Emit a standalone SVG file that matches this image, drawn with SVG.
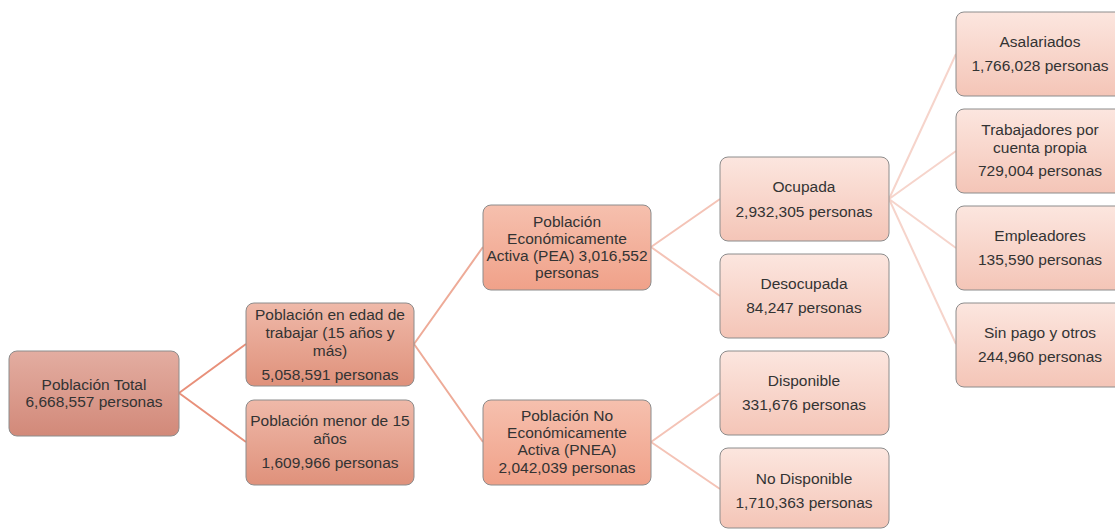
<svg xmlns="http://www.w3.org/2000/svg" width="1115" height="529" viewBox="0 0 1115 529">
<defs>
<linearGradient id="g1" x1="0" y1="0" x2="0" y2="1"><stop offset="0" stop-color="#e3ada1"/><stop offset="1" stop-color="#d28979"/></linearGradient>
<linearGradient id="g2" x1="0" y1="0" x2="0" y2="1"><stop offset="0" stop-color="#efb9a9"/><stop offset="1" stop-color="#df917b"/></linearGradient>
<linearGradient id="g3" x1="0" y1="0" x2="0" y2="1"><stop offset="0" stop-color="#f6c0ae"/><stop offset="1" stop-color="#f0a189"/></linearGradient>
<linearGradient id="g4" x1="0" y1="0" x2="0" y2="1"><stop offset="0" stop-color="#fce6df"/><stop offset="1" stop-color="#f4c5b7"/></linearGradient>
</defs>
<style>
rect{stroke:#8c8c8c;stroke-width:1;}
text{font-family:"Liberation Sans",Arial,sans-serif;font-size:15.5px;fill:#333333;text-anchor:middle;}
.c1{stroke:#e8907a;stroke-width:2;fill:none;}
.c2{stroke:#eeab98;stroke-width:2;fill:none;}
.c3{stroke:#f4c3b6;stroke-width:2;fill:none;}
.c4{stroke:#f6d4cb;stroke-width:2;fill:none;}
</style>
<g id="connectors">
<path class="c1" d="M179,393 L246,344 M179,393 L246,442"/>
<path class="c2" d="M414,344 L483,247 M414,344 L483,442"/>
<path class="c3" d="M651,247 L720,199 M651,247 L720,296 M651,442 L720,393 M651,442 L720,489"/>
<path class="c4" d="M889,199 L956,54 M889,199 L956,151 M889,199 L956,248 M889,199 L956,344"/>
</g>
<g id="n-total"><rect x="9" y="351" width="170" height="85" rx="8" fill="url(#g1)"/><text x="94" y="390">Población Total</text><text x="94" y="407">6,668,557 personas</text></g>
<g id="n-edad"><rect x="246" y="303" width="168" height="83" rx="8" fill="url(#g2)"/><text x="330" y="320">Población en edad de</text><text x="330" y="338">trabajar (15 años y</text><text x="330" y="356">más)</text><text x="330" y="380">5,058,591 personas</text></g>
<g id="n-menor"><rect x="246" y="400" width="168" height="85" rx="8" fill="url(#g2)"/><text x="330" y="426">Población menor de 15</text><text x="330" y="444">años</text><text x="330" y="468">1,609,966 personas</text></g>
<g id="n-pea"><rect x="483" y="205" width="168" height="85" rx="8" fill="url(#g3)"/><text x="567" y="227">Población</text><text x="567" y="244">Económicamente</text><text x="567" y="261">Activa (PEA) 3,016,552</text><text x="567" y="278">personas</text></g>
<g id="n-pnea"><rect x="483" y="400" width="168" height="85" rx="8" fill="url(#g3)"/><text x="567" y="421">Población No</text><text x="567" y="438">Económicamente</text><text x="567" y="455">Activa (PNEA)</text><text x="567" y="473">2,042,039 personas</text></g>
<g id="n-ocupada"><rect x="720" y="157" width="169" height="84" rx="8" fill="url(#g4)"/><text x="804" y="192">Ocupada</text><text x="804" y="217">2,932,305 personas</text></g>
<g id="n-desocupada"><rect x="720" y="254" width="169" height="84" rx="8" fill="url(#g4)"/><text x="804" y="289">Desocupada</text><text x="804" y="313">84,247 personas</text></g>
<g id="n-disponible"><rect x="720" y="351" width="169" height="84" rx="8" fill="url(#g4)"/><text x="804" y="386">Disponible</text><text x="804" y="410">331,676 personas</text></g>
<g id="n-nodisponible"><rect x="720" y="448" width="169" height="80" rx="8" fill="url(#g4)"/><text x="804" y="484">No Disponible</text><text x="804" y="508">1,710,363 personas</text></g>
<g id="n-asalariados"><rect x="956" y="12" width="168" height="84" rx="8" fill="url(#g4)"/><text x="1040" y="47">Asalariados</text><text x="1040" y="71">1,766,028 personas</text></g>
<g id="n-cuentapropia"><rect x="956" y="109" width="168" height="84" rx="8" fill="url(#g4)"/><text x="1040" y="135">Trabajadores por</text><text x="1040" y="153">cuenta propia</text><text x="1040" y="176">729,004 personas</text></g>
<g id="n-empleadores"><rect x="956" y="206" width="168" height="84" rx="8" fill="url(#g4)"/><text x="1040" y="241">Empleadores</text><text x="1040" y="265">135,590 personas</text></g>
<g id="n-sinpago"><rect x="956" y="303" width="168" height="84" rx="8" fill="url(#g4)"/><text x="1040" y="338">Sin pago y otros</text><text x="1040" y="362">244,960 personas</text></g>
</svg>
